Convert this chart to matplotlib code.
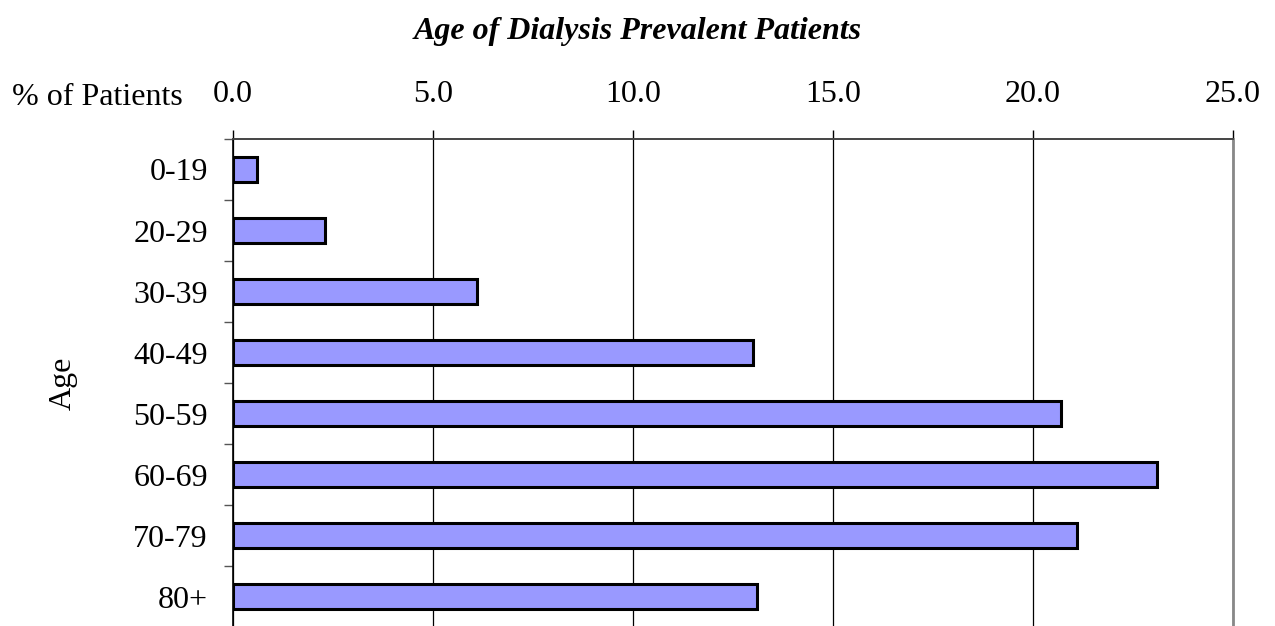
import numpy as np
import matplotlib
matplotlib.use("Agg")
import matplotlib.pyplot as plt

ages = ["0-19", "20-29", "30-39", "40-49", "50-59", "60-69", "70-79", "80+"]
pct = [0.6, 2.3, 6.1, 13.0, 20.7, 23.1, 21.1, 13.1]
xticks = [0, 5, 10, 15, 20, 25]

plt.rcParams['font.family'] = ['Liberation Serif', 'DejaVu Serif']

fig = plt.figure(figsize=(12.75, 6.26), dpi=100)
ax = fig.add_axes([0.1827, -0.002, 0.7843, 0.78])

y = np.arange(len(ages))
ax.barh(y, pct, height=0.41, color="#9999FF", edgecolor="black", linewidth=2.2, zorder=3)

ax.set_xlim(0, 25)
ax.set_ylim(len(ages) - 0.5, -0.5)
ax.xaxis.tick_top()
ax.set_xticks(xticks)
ax.set_xticklabels(["%.1f" % v for v in xticks])
ax.tick_params(axis="x", direction="out", length=6.5, width=1, pad=15, labelsize=23, color="black")
ax.grid(axis="x", color="black", linewidth=0.9, zorder=0)

ax.set_yticks(y)
ax.set_yticklabels(ages)
ax.set_yticks(np.arange(len(ages) + 1) - 0.5, minor=True)
ax.tick_params(axis="y", which="major", length=0, pad=18, labelsize=23)
ax.tick_params(axis="y", which="minor", length=6.5, width=1, color="#555555")

ax.spines["left"].set_color("black")
ax.spines["left"].set_linewidth(1.2)
ax.spines["top"].set_color("#444444")
ax.spines["top"].set_linewidth(1.4)
ax.spines["right"].set_color("#888888")
ax.spines["right"].set_linewidth(2)
ax.spines["bottom"].set_visible(False)

ax.set_ylabel("Age", fontsize=23, labelpad=40)

fig.text(0.5, 0.95, "Age of Dialysis Prevalent Patients", ha="center", va="center",
         fontsize=23, fontweight="bold", fontstyle="italic")
fig.text(0.0094, 0.845, "% of Patients", ha="left", va="center", fontsize=23)

fig.savefig("out.png", dpi=100)
